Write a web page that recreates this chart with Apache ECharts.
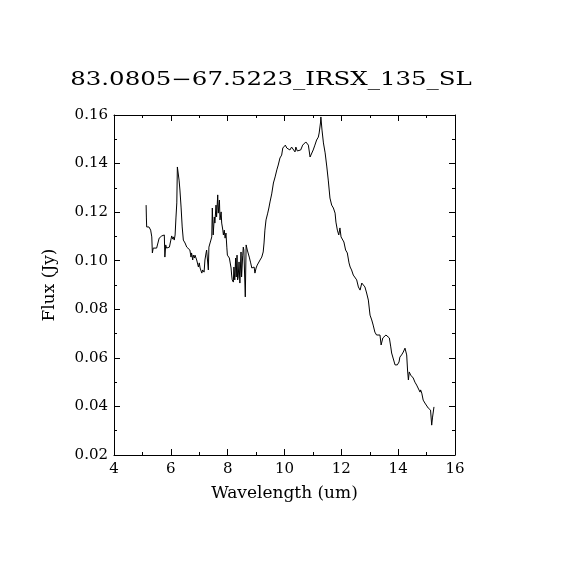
<!DOCTYPE html>
<html>
<head>
<meta charset="utf-8">
<script src="https://cdn.jsdelivr.net/npm/echarts@6/dist/echarts.min.js"></script>
<style>
  html, body { margin: 0; width: 100%; height: 100%; background: #fff; }
  #main { width: 570px; height: 570px; }
</style>
</head>
<body>
<div id="main"></div>
<script>
// spectrum: wavelength (um) and flux (Jy)
var wavelength = [
  5.13, 5.14, 5.15, 5.20, 5.23, 5.29, 5.33, 5.35, 5.38, 5.50,
  5.55, 5.59, 5.64, 5.68, 5.73, 5.77, 5.79, 5.82, 5.85, 5.91,
  5.95, 6.00, 6.03, 6.07, 6.09, 6.12, 6.15, 6.18, 6.21, 6.23,
  6.26, 6.29, 6.32, 6.36, 6.40, 6.44, 6.50, 6.56, 6.61, 6.67,
  6.71, 6.73, 6.77, 6.79, 6.83, 6.85, 6.89, 6.91, 6.93, 6.97,
  7.00, 7.03, 7.06, 7.09, 7.12, 7.17, 7.20, 7.24, 7.26, 7.30,
  7.32, 7.34, 7.38, 7.41, 7.44, 7.46, 7.49, 7.53, 7.55, 7.59,
  7.61, 7.65, 7.67, 7.71, 7.73, 7.77, 7.79, 7.83, 7.85, 7.88,
  7.91, 7.94, 7.97, 7.99, 8.02, 8.06, 8.09, 8.12, 8.14, 8.16,
  8.20, 8.22, 8.25, 8.28, 8.30, 8.33, 8.35, 8.37, 8.40, 8.43,
  8.47, 8.49, 8.53, 8.55, 8.57, 8.60, 8.62, 8.65, 8.67, 8.69,
  8.73, 8.76, 8.81, 8.85, 8.88, 8.93, 8.96, 9.00, 9.04, 9.08,
  9.14, 9.20, 9.25, 9.28, 9.31, 9.35, 9.41, 9.45, 9.49, 9.55,
  9.61, 9.67, 9.73, 9.78, 9.84, 9.90, 9.94, 9.98, 10.03, 10.08,
  10.13, 10.19, 10.25, 10.31, 10.37, 10.40, 10.45, 10.52, 10.57, 10.64,
  10.69, 10.75, 10.78, 10.84, 10.90, 10.96, 11.01, 11.07, 11.13, 11.19,
  11.22, 11.27, 11.28, 11.32, 11.37, 11.43, 11.49, 11.54, 11.60, 11.66,
  11.72, 11.78, 11.81, 11.86, 11.91, 11.95, 11.99, 12.05, 12.09, 12.15,
  12.21, 12.27, 12.31, 12.36, 12.42, 12.48, 12.54, 12.60, 12.66, 12.72,
  12.77, 12.83, 12.89, 12.95, 13.01, 13.07, 13.12, 13.18, 13.24, 13.30,
  13.36, 13.40, 13.46, 13.50, 13.57, 13.62, 13.69, 13.74, 13.77, 13.83,
  13.89, 13.92, 13.97, 14.03, 14.06, 14.12, 14.18, 14.24, 14.28, 14.30,
  14.33, 14.36, 14.39, 14.44, 14.48, 14.53, 14.59, 14.65, 14.71, 14.77,
  14.79, 14.83, 14.88, 14.94, 15.00, 15.06, 15.10, 15.14, 15.18, 15.21,
  15.26
];
var flux = [
  0.1229, 0.1176, 0.1139, 0.1135, 0.1139, 0.1126, 0.1098, 0.1032, 0.1052, 0.1052,
  0.1056, 0.1093, 0.1093, 0.1102, 0.1110, 0.1106, 0.1015, 0.1065, 0.1052, 0.1056,
  0.1056, 0.1085, 0.1102, 0.1089, 0.1098, 0.1085, 0.1106, 0.1176, 0.1238, 0.1386,
  0.1382, 0.1332, 0.1291, 0.1221, 0.1139, 0.1085, 0.1073, 0.1056, 0.1056, 0.1044,
  0.1015, 0.1032, 0.1003, 0.1023, 0.1011, 0.1023, 0.1015, 0.1003, 0.0995, 0.0974,
  0.0991, 0.0970, 0.0962, 0.0949, 0.0962, 0.0953, 0.1003, 0.1032, 0.1044, 0.1052,
  0.0962, 0.1056, 0.1073, 0.1085, 0.1098, 0.1217, 0.1106, 0.1180, 0.1155, 0.1229,
  0.1180, 0.1271, 0.1196, 0.1250, 0.1168, 0.1201, 0.1155, 0.1126, 0.1106, 0.1126,
  0.1093, 0.1114, 0.1056, 0.1023, 0.1015, 0.1011, 0.1003, 0.0970, 0.0941, 0.0921,
  0.0912, 0.0974, 0.0921, 0.1011, 0.0933, 0.1023, 0.0921, 0.0933, 0.0995, 0.0908,
  0.1036, 0.0933, 0.1023, 0.1056, 0.1044, 0.1052, 0.0851, 0.1065, 0.1073, 0.1044,
  0.1036, 0.1015, 0.0991, 0.0970, 0.0962, 0.0974, 0.0949, 0.0970, 0.0982, 0.0982,
  0.1003, 0.1015, 0.1036, 0.1073, 0.1126, 0.1168, 0.1196, 0.1217, 0.1242, 0.1275,
  0.1320, 0.1345, 0.1374, 0.1394, 0.1423, 0.1435, 0.1464, 0.1456, 0.1476, 0.1464,
  0.1468, 0.1456, 0.1468, 0.1464, 0.1448, 0.1468, 0.1452, 0.1444, 0.1456, 0.1476,
  0.1468, 0.1489, 0.1497, 0.1476, 0.1427, 0.1427, 0.1456, 0.1476, 0.1497, 0.1509,
  0.1526, 0.1571, 0.1592, 0.1538, 0.1485, 0.1444, 0.1386, 0.1332, 0.1258, 0.1229,
  0.1217, 0.1196, 0.1159, 0.1126, 0.1106, 0.1135, 0.1098, 0.1106, 0.1077, 0.1044,
  0.1032, 0.0991, 0.0974, 0.0962, 0.0941, 0.0933, 0.0921, 0.0892, 0.0879, 0.0908,
  0.0912, 0.0892, 0.0867, 0.0838, 0.0776, 0.0756, 0.0735, 0.0706, 0.0694, 0.0686,
  0.0694, 0.0653, 0.0682, 0.0686, 0.0694, 0.0686, 0.0682, 0.0645, 0.0620, 0.0612,
  0.0571, 0.0579, 0.0571, 0.0583, 0.0603, 0.0612, 0.0624, 0.0640, 0.0645, 0.0612,
  0.0550, 0.0509, 0.0542, 0.0529, 0.0521, 0.0517, 0.0500, 0.0488, 0.0480, 0.0459,
  0.0468, 0.0455, 0.0426, 0.0414, 0.0406, 0.0393, 0.0385, 0.0385, 0.0323, 0.0356,
  0.0398
];
var xTicks = [4, 6, 8, 10, 12, 14, 16];
var yTicks = [0.02, 0.04, 0.06, 0.08, 0.10, 0.12, 0.14, 0.16];
var titleText = '83.0805\u221267.5223_IRSX_135_SL';
var xName = 'Wavelength (um)';
var yName = 'Flux (Jy)';

var points = wavelength.map(function (w, i) { return [w, flux[i]]; });

var font = 'DejaVu Serif';
var black = '#000';

function frameAxis(extra) {
  var base = {
    type: 'value',
    axisLine: { show: true, onZero: false, lineStyle: { color: black, width: 1 } },
    axisTick: { show: true, inside: true, length: 6, lineStyle: { color: black, width: 1 } },
    minorTick: { show: true, splitNumber: 2, length: 3, lineStyle: { color: black, width: 1 } },
    splitLine: { show: false },
    axisLabel: { show: false }
  };
  for (var k in extra) base[k] = extra[k];
  return base;
}

var chart = echarts.init(document.getElementById('main'), null, { renderer: 'canvas' });
var option = {
  backgroundColor: '#fff',
  animation: false,
  grid: { left: 114, top: 115, width: 341, height: 340, containLabel: false },
  graphic: [{
    type: 'text',
    x: 271,
    y: 80,
    scaleX: 1.36,
    style: {
      text: titleText,
      font: '18px "DejaVu Serif"',
      fill: black,
      textAlign: 'center',
      textVerticalAlign: 'middle'
    }
  }],
  xAxis: [
    frameAxis({
      position: 'bottom', min: xTicks[0], max: xTicks[xTicks.length - 1], interval: 2,
      name: xName, nameLocation: 'middle', nameGap: 30,
      nameTextStyle: { fontFamily: font, fontSize: 17, color: black },
      axisLabel: { show: true, margin: 7, fontFamily: font, fontSize: 15, color: black }
    }),
    frameAxis({ position: 'top', min: xTicks[0], max: xTicks[xTicks.length - 1], interval: 2 })
  ],
  yAxis: [
    frameAxis({
      position: 'left', min: yTicks[0], max: yTicks[yTicks.length - 1], interval: 0.02,
      name: yName, nameLocation: 'middle', nameGap: 56, nameRotate: 90,
      nameTextStyle: { fontFamily: font, fontSize: 17, color: black },
      axisLabel: {
        show: true, margin: 6, fontFamily: font, fontSize: 15, color: black,
        formatter: function (v) { return v.toFixed(2); }
      }
    }),
    frameAxis({ position: 'right', min: yTicks[0], max: yTicks[yTicks.length - 1], interval: 0.02 })
  ],
  series: [{
    type: 'line',
    data: points,
    showSymbol: false,
    symbol: 'none',
    lineStyle: { color: black, width: 1 },
    xAxisIndex: 0,
    yAxisIndex: 0
  }]
};
chart.setOption(option);
</script>
</body>
</html>
